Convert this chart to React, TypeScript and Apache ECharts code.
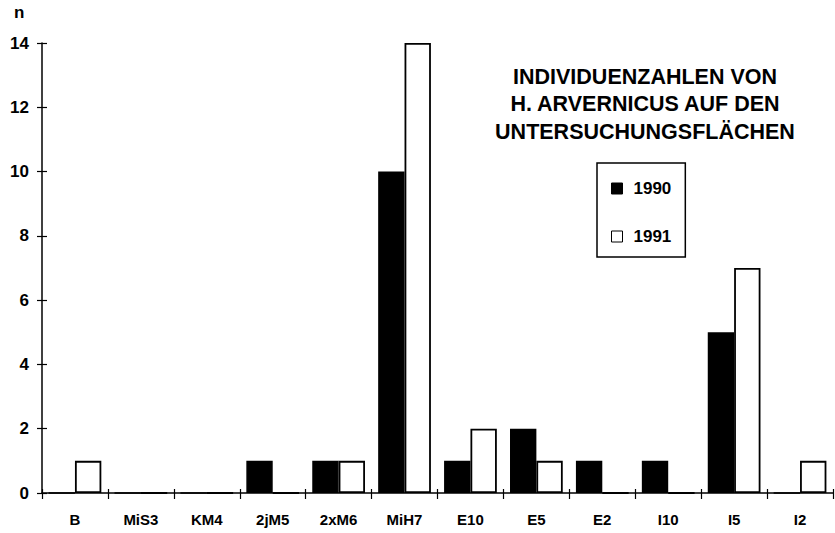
import React, { useEffect, useRef } from "react";
import * as echarts from "echarts";

const categories = ["B", "MiS3", "KM4", "2jM5", "2xM6", "MiH7", "E10", "E5", "E2", "I10", "I5", "I2"];
const values1990 = [0, 0, 0, 1, 1, 10, 1, 2, 1, 1, 5, 0];
const values1991 = [1, 0, 0, 0, 1, 14, 2, 1, 0, 0, 7, 1];
const titleLines = ["INDIVIDUENZAHLEN VON", "H. ARVERNICUS AUF DEN", "UNTERSUCHUNGSFLÄCHEN"];
const yName = "n";

const FONT = "'Liberation Sans', Arial, sans-serif";

export default function App() {
  const ref = useRef<HTMLDivElement>(null);
  useEffect(() => {
    if (!ref.current) return;
    const chart = echarts.init(ref.current, undefined, { renderer: "svg" });
    const axisLine = { show: true, lineStyle: { color: "#000", width: 1.5 } };
    chart.setOption({
      animation: false,
      backgroundColor: "#fff",
      textStyle: { fontFamily: FONT },
      grid: { left: 42, right: 2, top: 43, bottom: 40 },
      title: {
        text: titleLines.join("\n"),
        left: 640,
        top: 58,
        textAlign: "center",
        textStyle: { fontFamily: FONT, fontWeight: "bold", fontSize: 21.5, lineHeight: 27.5, color: "#000" },
      },
      legend: {
        left: 597,
        top: 163,
        orient: "vertical",
        icon: "rect",
        itemWidth: 11,
        itemHeight: 11,
        itemGap: 31,
        padding: [17, 14, 12, 14],
        borderColor: "#000",
        borderWidth: 1.5,
        formatter: (name: string) => `{t|${name}}`,
        textStyle: {
          fontFamily: FONT,
          fontWeight: "bold",
          fontSize: 17,
          color: "#000",
          rich: { t: { fontFamily: FONT, fontWeight: "bold", fontSize: 17, color: "#000", padding: [0, 0, 0, 6] } },
        },
        data: [
          { name: "1990", itemStyle: { color: "#000", borderColor: "#000", borderWidth: 1 } },
          { name: "1991", itemStyle: { color: "#fff", borderColor: "#000", borderWidth: 1 } },
        ],
      },
      graphic: [
        {
          type: "text",
          left: 14,
          top: 4,
          style: { text: yName, font: `bold 17px ${FONT}`, fill: "#000" },
        },
      ],
      xAxis: [
        {
          type: "category",
          data: categories,
          axisLine,
          axisTick: { show: true, length: 6, lineStyle: { color: "#000", width: 1.2 } },
          axisLabel: { margin: 19, color: "#000", fontFamily: FONT, fontWeight: "bold", fontSize: 15 },
          splitLine: { show: false },
        },
        {
          type: "category",
          data: categories,
          position: "bottom",
          axisLine: { show: false },
          axisTick: { show: true, inside: true, length: 4, lineStyle: { color: "#000", width: 1.2 } },
          axisLabel: { show: false },
          splitLine: { show: false },
        },
      ],
      yAxis: [
        {
          type: "value",
          min: 0,
          max: 14,
          interval: 2,
          axisLine,
          axisTick: { show: true, length: 5, lineStyle: { color: "#000", width: 1.2 } },
          axisLabel: { margin: 13, color: "#000", fontFamily: FONT, fontWeight: "bold", fontSize: 17 },
          splitLine: { show: false },
        },
        {
          type: "value",
          min: 0,
          max: 14,
          interval: 2,
          position: "left",
          axisLine: { show: false },
          axisTick: { show: true, inside: true, length: 5, lineStyle: { color: "#000", width: 1.2 } },
          axisLabel: { show: false },
          splitLine: { show: false },
        },
      ],
      series: [
        {
          name: "1990",
          type: "bar",
          data: values1990,
          barGap: "0%",
          barCategoryGap: "20%",
          itemStyle: { color: "#000", borderColor: "#000", borderWidth: 1.5 },
        },
        {
          name: "1991",
          type: "bar",
          data: values1991,
          barGap: "0%",
          barCategoryGap: "20%",
          itemStyle: { color: "#fff", borderColor: "#000", borderWidth: 1.8 },
        },
      ],
    });
    return () => chart.dispose();
  }, []);
  return <div ref={ref} style={{ width: 835, height: 533, position: "absolute", left: 0, top: 0 }} />;
}
